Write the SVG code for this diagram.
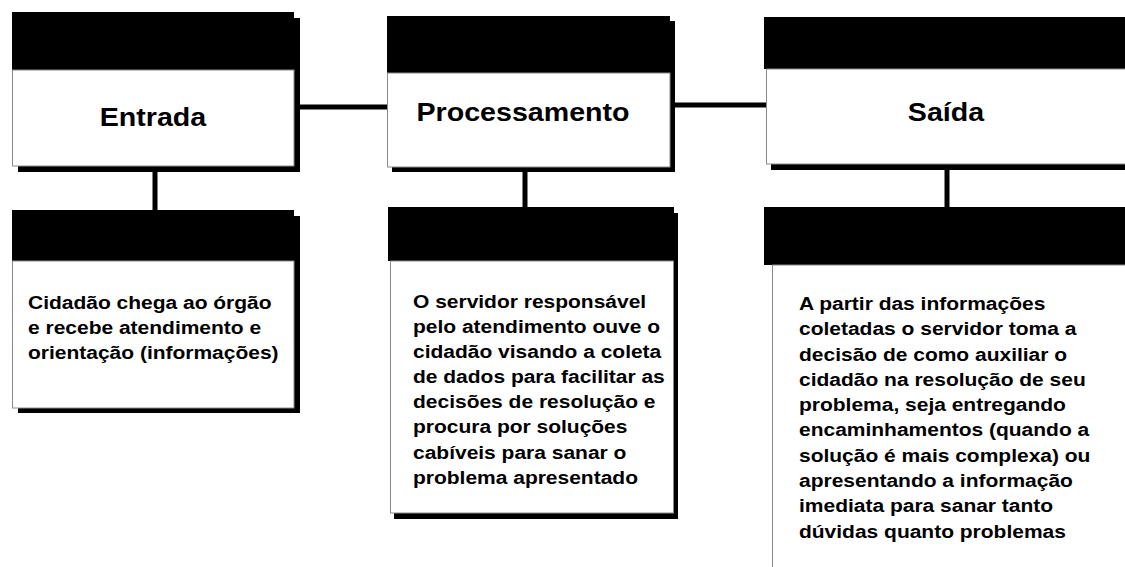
<svg xmlns="http://www.w3.org/2000/svg" width="1125" height="567" viewBox="0 0 1125 567">
<style>
.bg{fill:#ffffff}
.shadow{fill:#000000}
.head{fill:#000000}
.body{fill:#ffffff;stroke:#8a8a8a;stroke-width:1}
.conn{stroke:#000000;stroke-width:5;fill:none}
.title{font-family:"Liberation Sans",Arial,sans-serif;font-weight:bold;font-size:26px;fill:#000000}
.txt{font-family:"Liberation Sans",Arial,sans-serif;font-weight:bold;font-size:18.5px;fill:#000000}
</style>
<rect class="bg" x="0" y="0" width="1125" height="567"/>
<g id="connectors">
<line class="conn" x1="298" y1="107" x2="389" y2="107"/>
<line class="conn" x1="673" y1="105" x2="768" y2="105"/>
<line class="conn" x1="155" y1="170" x2="155" y2="211"/>
<line class="conn" x1="525" y1="170" x2="525" y2="208"/>
<line class="conn" x1="947" y1="168" x2="947" y2="208"/>
</g>
<g id="entrada">
<rect class="shadow" x="18" y="18" width="282" height="154"/>
<rect class="head" x="12" y="12" width="282" height="58"/>
<rect class="body" x="12.5" y="70" width="281.5" height="96"/>
<text class="title" text-anchor="middle" transform="translate(153,126) scale(1.1,1)">Entrada</text>
</g>
<g id="processamento">
<rect class="shadow" x="392" y="21" width="283" height="151"/>
<rect class="head" x="387" y="16" width="283" height="57"/>
<rect class="body" x="387.5" y="73" width="282.5" height="94"/>
<text class="title" text-anchor="middle" transform="translate(523,121) scale(1.1,1)">Processamento</text>
</g>
<g id="saida">
<rect class="shadow" x="771" y="22" width="400" height="148"/>
<rect class="head" x="764" y="17" width="400" height="52"/>
<rect class="body" x="766.5" y="69" width="400" height="95"/>
<text class="title" text-anchor="middle" transform="translate(946,121) scale(1.1,1)">Saída</text>
</g>
<g id="entrada-desc">
<rect class="shadow" x="18" y="216" width="282" height="197"/>
<rect class="head" x="12" y="210" width="282" height="51"/>
<rect class="body" x="12.5" y="261" width="281.5" height="147"/>
<g transform="translate(28,0) scale(1.135,1)">
<text class="txt" x="0" y="309">Cidadão chega ao órgão</text>
<text class="txt" x="0" y="334">e recebe atendimento e</text>
<text class="txt" x="0" y="359">orientação (informações)</text>
</g>
</g>
<g id="processamento-desc">
<rect class="shadow" x="394" y="213" width="284" height="306"/>
<rect class="head" x="388" y="207" width="286" height="54"/>
<rect class="body" x="390.5" y="261" width="283" height="252"/>
<g transform="translate(413,0) scale(1.135,1)">
<text class="txt" x="0" y="308">O servidor responsável</text>
<text class="txt" x="0" y="333">pelo atendimento ouve o</text>
<text class="txt" x="0" y="358">cidadão visando a coleta</text>
<text class="txt" x="0" y="383.5">de dados para facilitar as</text>
<text class="txt" x="0" y="408.5">decisões de resolução e</text>
<text class="txt" x="0" y="433.5">procura por soluções</text>
<text class="txt" x="0" y="459">cabíveis para sanar o</text>
<text class="txt" x="0" y="484">problema apresentado</text>
</g>
</g>
<g id="saida-desc">
<rect class="head" x="764" y="207" width="400" height="58"/>
<rect class="body" x="772.5" y="265" width="400" height="330"/>
<g transform="translate(799,0) scale(1.135,1)">
<text class="txt" x="0" y="310">A partir das informações</text>
<text class="txt" x="0" y="335.3">coletadas o servidor toma a</text>
<text class="txt" x="0" y="360.6">decisão de como auxiliar o</text>
<text class="txt" x="0" y="385.9">cidadão na resolução de seu</text>
<text class="txt" x="0" y="411.2">problema, seja entregando</text>
<text class="txt" x="0" y="436.5">encaminhamentos (quando a</text>
<text class="txt" x="0" y="461.8">solução é mais complexa) ou</text>
<text class="txt" x="0" y="487.1">apresentando a informação</text>
<text class="txt" x="0" y="512.4">imediata para sanar tanto</text>
<text class="txt" x="0" y="537.7">dúvidas quanto problemas</text>
</g>
</g>
</svg>
